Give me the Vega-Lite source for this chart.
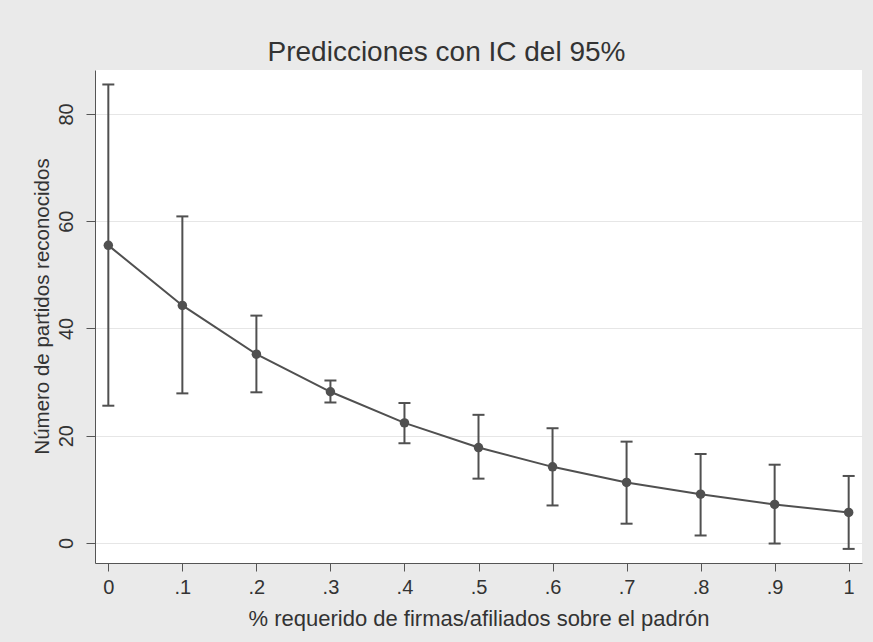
{
  "$schema": "https://vega.github.io/schema/vega-lite/v6.json",
  "width": 767,
  "height": 493,
  "autosize": {"type": "none"},
  "padding": {"left": 95, "top": 70, "right": 11, "bottom": 79},
  "background": "#eaeaea",
  "title": {
    "text": "Predicciones con IC del 95%",
    "fontSize": 28,
    "font": "Liberation Sans",
    "fontWeight": "normal",
    "color": "#333333",
    "anchor": "middle",
    "offset": 3,
    "dx": -32
  },
  "config": {
    "view": {"fill": "white", "stroke": null},
    "font": "Liberation Sans"
  },
  "data": {
    "values": [
      {"x": 0.0, "pred": 55.5, "lo": 25.6, "hi": 85.5},
      {"x": 0.1, "pred": 44.3, "lo": 27.9, "hi": 60.9},
      {"x": 0.2, "pred": 35.2, "lo": 28.1, "hi": 42.4},
      {"x": 0.3, "pred": 28.2, "lo": 26.2, "hi": 30.3},
      {"x": 0.4, "pred": 22.4, "lo": 18.6, "hi": 26.1},
      {"x": 0.5, "pred": 17.8, "lo": 12.0, "hi": 23.9},
      {"x": 0.6, "pred": 14.2, "lo": 7.0, "hi": 21.4},
      {"x": 0.7, "pred": 11.3, "lo": 3.6, "hi": 18.9},
      {"x": 0.8, "pred": 9.1, "lo": 1.4, "hi": 16.6},
      {"x": 0.9, "pred": 7.2, "lo": -0.1, "hi": 14.6},
      {"x": 1.0, "pred": 5.7, "lo": -1.1, "hi": 12.5}
    ]
  },
  "encoding": {
    "x": {
      "field": "x",
      "type": "quantitative",
      "scale": {"domain": [-0.018, 1.018], "nice": false, "zero": false},
      "axis": {
        "values": [0, 0.1, 0.2, 0.3, 0.4, 0.5, 0.6, 0.7, 0.8, 0.9, 1],
        "labelExpr": "datum.value == 0 ? '0' : datum.value == 1 ? '1' : replace(format(datum.value, '.1f'), '0.', '.')",
        "title": "% requerido de firmas/afiliados sobre el padrón",
        "grid": false,
        "tickSize": 8,
        "tickColor": "#555555",
        "domainColor": "#555555",
        "labelFontSize": 20,
        "labelColor": "#333333",
        "labelPadding": 6,
        "labelFlush": false,
        "labelOverlap": false,
        "titleFontSize": 22,
        "titleFontWeight": "normal",
        "titleColor": "#333333",
        "titlePadding": 11
      }
    }
  },
  "layer": [
    {
      "mark": {"type": "rule", "color": "#505050", "strokeWidth": 2},
      "encoding": {
        "y": {
          "field": "lo",
          "type": "quantitative",
          "title": "Número de partidos reconocidos",
          "scale": {"domain": [-3.73, 88.2], "nice": false, "zero": false},
          "axis": {
            "values": [0, 20, 40, 60, 80],
            "format": "d",
            "grid": true,
            "gridColor": "#e6e6e6",
            "gridWidth": 1,
            "tickSize": 9,
            "tickColor": "#555555",
            "domainColor": "#555555",
            "labelAngle": -90,
            "labelAlign": "center",
            "labelBaseline": "bottom",
            "labelFontSize": 20,
            "labelColor": "#333333",
            "labelPadding": 10,
            "labelFlush": false,
            "labelOverlap": false,
            "titleFontSize": 20.5,
            "titleFontWeight": "normal",
            "titleColor": "#333333",
            "titlePadding": 4,
            "titleY": 236
          }
        },
        "y2": {"field": "hi"}
      }
    },
    {
      "mark": {"type": "tick", "orient": "horizontal", "color": "#505050", "thickness": 2, "size": 12, "opacity": 1},
      "encoding": {
        "y": {"field": "lo", "type": "quantitative", "title": "Número de partidos reconocidos"}
      }
    },
    {
      "mark": {"type": "tick", "orient": "horizontal", "color": "#505050", "thickness": 2, "size": 12, "opacity": 1},
      "encoding": {
        "y": {"field": "hi", "type": "quantitative", "title": "Número de partidos reconocidos"}
      }
    },
    {
      "mark": {"type": "line", "color": "#505050", "strokeWidth": 2},
      "encoding": {
        "y": {"field": "pred", "type": "quantitative", "title": "Número de partidos reconocidos"}
      }
    },
    {
      "mark": {"type": "point", "filled": true, "size": 90, "color": "#505050", "opacity": 1},
      "encoding": {
        "y": {"field": "pred", "type": "quantitative", "title": "Número de partidos reconocidos"}
      }
    }
  ]
}
